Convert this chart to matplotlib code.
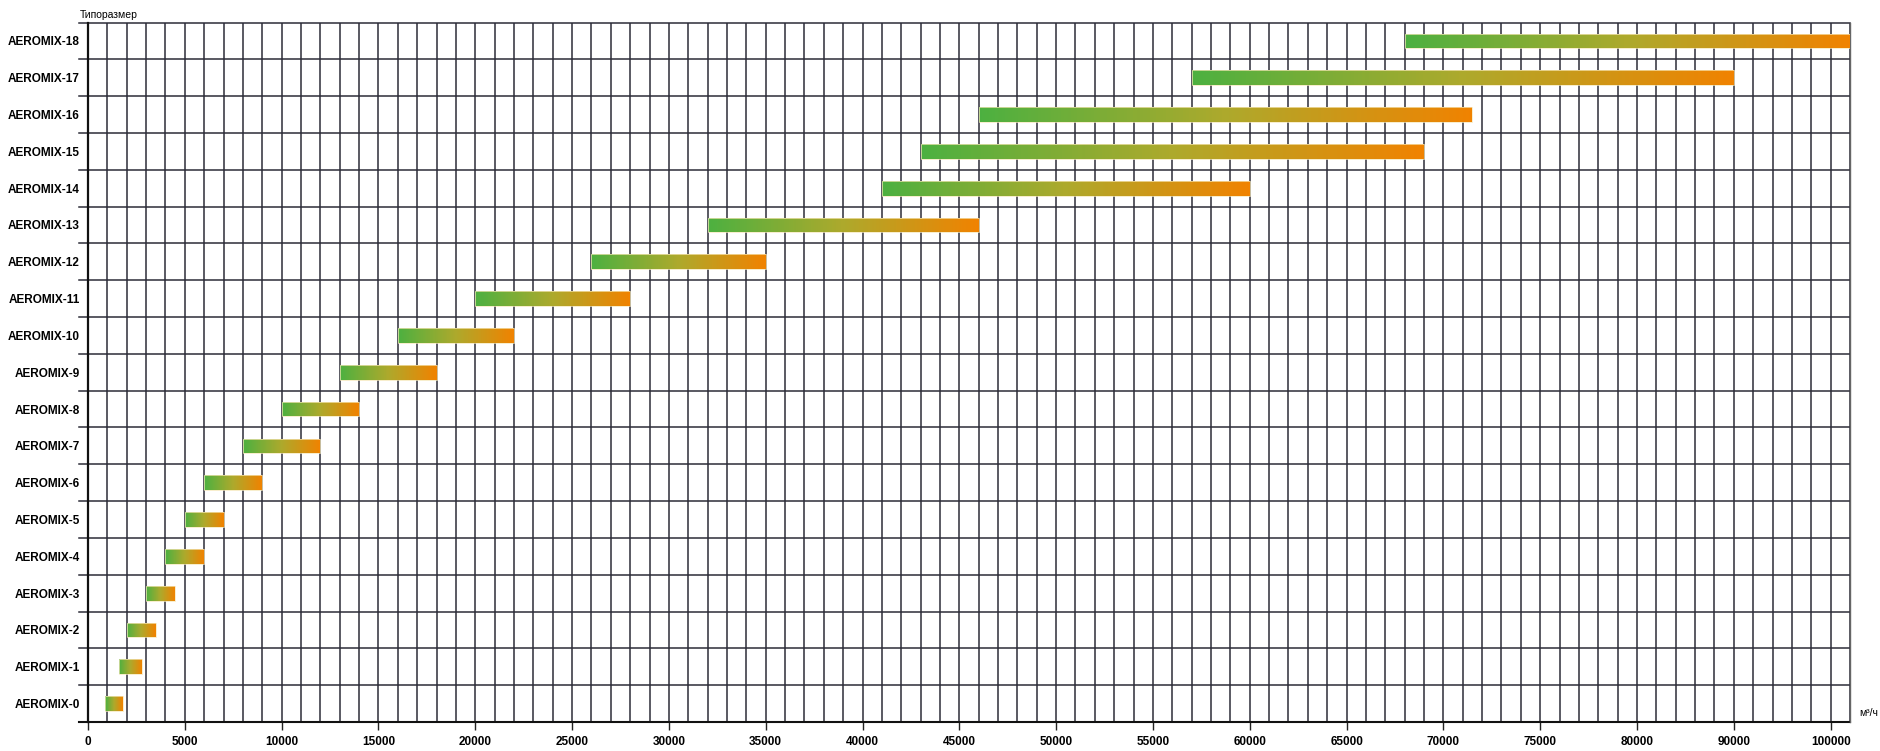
import numpy as np
import matplotlib
matplotlib.use('Agg')
import matplotlib.pyplot as plt
from matplotlib.colors import LinearSegmentedColormap

plt.rcParams['font.family'] = ['Liberation Sans', 'DejaVu Sans']

# ---- data ----
categories = ['AEROMIX-0', 'AEROMIX-1', 'AEROMIX-2', 'AEROMIX-3', 'AEROMIX-4',
              'AEROMIX-5', 'AEROMIX-6', 'AEROMIX-7', 'AEROMIX-8', 'AEROMIX-9',
              'AEROMIX-10', 'AEROMIX-11', 'AEROMIX-12', 'AEROMIX-13', 'AEROMIX-14',
              'AEROMIX-15', 'AEROMIX-16', 'AEROMIX-17', 'AEROMIX-18']
flow_min = [900, 1600, 2000, 3000, 4000, 5000, 6000, 8000, 10000, 13000,
            16000, 20000, 26000, 32000, 41000, 43000, 46000, 57000, 68000]
flow_max = [1800, 2800, 3500, 4500, 6000, 7000, 9000, 12000, 14000, 18000,
            22000, 28000, 35000, 46000, 60000, 69000, 71500, 90000, 102000]
major_ticks = [0, 5000, 10000, 15000, 20000, 25000, 30000, 35000, 40000,
               45000, 50000, 55000, 60000, 65000, 70000, 75000, 80000,
               90000, 100000]
tick_labels = [str(v) for v in major_ticks]
x_max = 102000
scale_break = 80000  # above this value the axis is compressed 2:1

def forward(x):
    x = np.asarray(x, dtype=float)
    return np.where(x <= scale_break, x, scale_break + (x - scale_break) / 2.0)

def inverse(y):
    y = np.asarray(y, dtype=float)
    return np.where(y <= scale_break, y, scale_break + (y - scale_break) * 2.0)

W, H = 1881, 751
fig = plt.figure(figsize=(W / 100, H / 100), dpi=100)
left_px, right_px, top_px, bot_px = 88, 1850, 22.5, 722
ax = fig.add_axes([left_px / W, 1 - bot_px / H, (right_px - left_px) / W, (bot_px - top_px) / H])
ax.set_xscale('function', functions=(forward, inverse))
ax.set_xlim(0, x_max)
ax.set_ylim(-0.5, len(categories) - 0.5)

grid_col = '#2c2c38'

# vertical grid
minor = list(range(0, scale_break + 1, 1000)) + list(range(scale_break + 2000, x_max + 1, 2000))
ax.set_xticks(minor, minor=True)
ax.set_xticks(major_ticks)
ax.set_xticklabels(tick_labels, fontsize=8.5, fontweight='bold')
ax.tick_params(axis='x', which='minor', length=0)
ax.tick_params(axis='x', which='major', length=5.8, width=1.0, color='#222222', pad=4.5, direction='out')
ax.grid(axis='x', which='both', color=grid_col, lw=1.1, zorder=0)
ax.set_axisbelow(True)

# horizontal lines (row boundaries), extending a bit left of the axis
ext = -9 / (right_px - left_px)
for b in np.arange(-0.5, len(categories), 1.0):
    is_bottom = b == -0.5
    ax.plot([ext, 1], [b, b], transform=ax.get_yaxis_transform(), clip_on=False,
            color='#111111' if is_bottom else grid_col, lw=1.5 if is_bottom else 1.1, zorder=1)

# y labels
ax.set_yticks(range(len(categories)))
ax.set_yticklabels(categories, fontsize=8.5, fontweight='bold')
ax.tick_params(axis='y', length=0, pad=5.8)

for s in ['top', 'bottom']:
    ax.spines[s].set_visible(False)
ax.spines['left'].set_color('#111111')
ax.spines['left'].set_linewidth(1.6)
ax.spines['right'].set_color('#666666')
ax.spines['right'].set_linewidth(1.0)

# gradient bars
cmap = LinearSegmentedColormap.from_list('gr', ['#4CB040', '#ADA92C', '#F08200'], N=256)
bar_h = 0.40
nseg = 150
for i, (a, b) in enumerate(zip(flow_min, flow_max)):
    t0, t1 = float(forward(a)), float(forward(b))
    te = np.linspace(t0, t1, nseg + 1)
    xe = inverse(te)
    tm = (np.arange(nseg) + 0.5) / nseg
    ax.barh(np.full(nseg, i), np.diff(xe), left=xe[:-1], height=bar_h,
            color=cmap(tm), lw=0, antialiased=False, zorder=3)
    ax.barh(i, b - a, left=a, height=bar_h, fill=False, edgecolor='#f6e7b8', lw=0.5, zorder=4)

fig.text(80 / W, 1 - 15 / H, 'Типоразмер', fontsize=7.5, ha='left', va='center')
fig.text(1859 / W, 1 - 713 / H, 'м³/ч', fontsize=7.5, ha='left', va='center')

fig.savefig('out.png', dpi=100)
